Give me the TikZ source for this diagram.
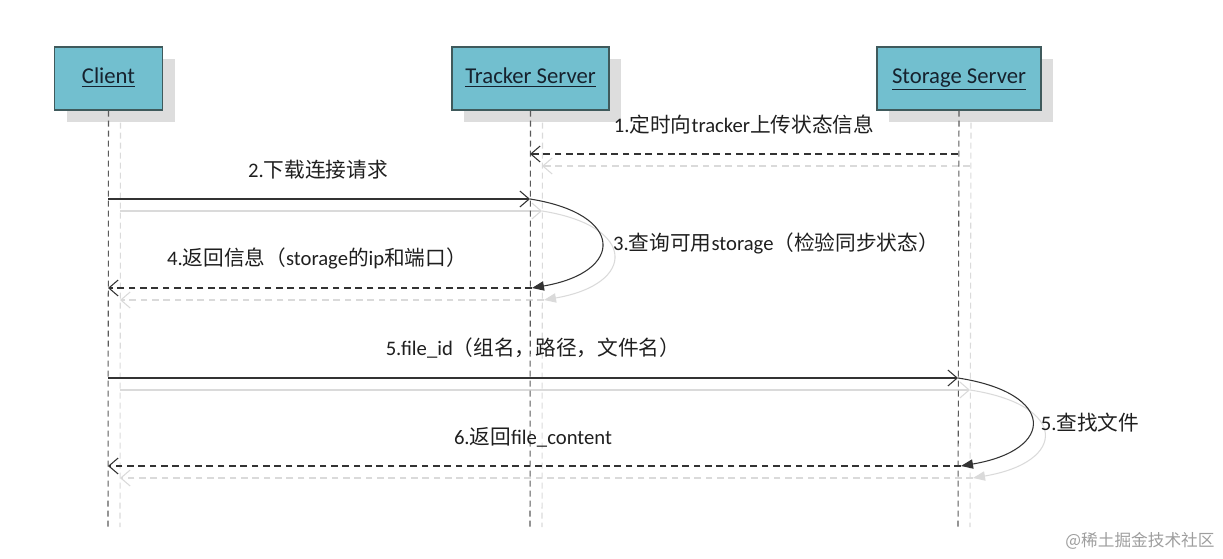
\documentclass[tikz,border=0pt]{standalone}
\usepackage{fontspec}
\setmainfont{Carlito}
\newfontfamily\cjk{Noto Sans CJK SC}
\newcommand\zh[1]{{\cjk #1}}
\usetikzlibrary{arrows.meta,shadows}
\definecolor{boxfill}{HTML}{72BFCF}
\definecolor{boxborder}{HTML}{3F5A5C}
\definecolor{headtext}{HTML}{16222E}
\definecolor{shadowgray}{HTML}{DDDDDD}
\definecolor{lineshadow}{HTML}{DADADA}
\definecolor{lifecol}{HTML}{5A5A5A}
\definecolor{msgcol}{HTML}{333333}
\begin{document}
\begin{tikzpicture}[x=0.75pt,y=-0.75pt,
  actor/.style={draw=boxborder,fill=boxfill,line width=1pt,minimum height=47.25pt,
    text=headtext,font=\fontsize{17}{20}\selectfont,inner sep=0pt,
    text height=12pt,text depth=4pt,
    drop shadow={shadow xshift=9pt,shadow yshift=-9pt,fill=shadowgray,opacity=1}},
  lifeline/.style={draw=lifecol,line width=0.8pt,dash pattern=on 4.5pt off 3pt},
  lifeshadow/.style={draw=lineshadow,line width=0.8pt,dash pattern=on 4.5pt off 3pt},
  msg/.style={draw=msgcol,line width=0.8pt,-{Straight Barb[length=7pt,width=12pt]}},
  ret/.style={msg,dash pattern=on 5pt off 3.5pt},
  selfmsg/.style={draw=msgcol,line width=0.8pt,-{Triangle[length=9pt,width=7pt]}},
  shadowmsg/.style={draw=lineshadow,line width=0.8pt,-{Straight Barb[length=7pt,width=12pt]}},
  shadowret/.style={shadowmsg,dash pattern=on 5pt off 3.5pt},
  shadowself/.style={draw=lineshadow,line width=0.8pt,-{Triangle[length=9pt,width=7pt]}},
  sh/.style={xshift=9pt,yshift=-9pt},
  lbl/.style={font=\fontsize{15.5}{18}\selectfont,text=black!88,inner sep=1pt},
]
\useasboundingbox (0,0) rectangle (1223,559);

% actors
\node[actor,minimum width=81pt] (client) at (108.5,78.5) {\underline{Client}};
\node[actor,minimum width=117.75pt] (tracker) at (530.5,78.5) {\underline{Tracker Server}};
\node[actor,minimum width=123pt] (storage) at (959,78.5) {\underline{Storage Server}};

% lifeline coordinates
\coordinate (cbot) at (108,527);
\coordinate (tbot) at (530,527);
\coordinate (sbot) at (958,527);

% message end points
\coordinate (s1) at (958,154); \coordinate (t1) at (530,154);
\coordinate (c2) at (108,199); \coordinate (t2) at (530,199);
\coordinate (t4) at (532,288); \coordinate (c4) at (108,288);
\coordinate (c5) at (108,378); \coordinate (s5) at (958,378);
\coordinate (s6) at (961,466); \coordinate (c6) at (108,466);

% shadows
\draw[lifeshadow] ([sh]client.south) -- ([xshift=9pt]cbot);
\draw[lifeshadow] ([sh]tracker.south) -- ([xshift=9pt]tbot);
\draw[lifeshadow] ([sh]storage.south) -- ([xshift=9pt]sbot);
\draw[shadowret] ([sh]s1) -- ([sh]t1);
\draw[shadowmsg] ([sh]c2) -- ([sh]t2);
\draw[shadowself] ([sh]t2) .. controls (637,226) and (637,284) .. ([sh]t4);
\draw[shadowret] ([sh]t4) -- ([sh]c4);
\draw[shadowmsg] ([sh]c5) -- ([sh]s5);
\draw[shadowself] ([sh]s5) .. controls (1068,405) and (1068,462) .. ([sh]s6);
\draw[shadowret] ([sh]s6) -- ([sh]c6);

% lifelines
\draw[lifeline] (client.south) -- (cbot);
\draw[lifeline] (tracker.south) -- (tbot);
\draw[lifeline] (storage.south) -- (sbot);

% messages
\draw[ret] (s1) -- (t1);
\draw[msg] (c2) -- (t2);
\draw[selfmsg] (t2) .. controls (625,214) and (625,272) .. (t4);
\draw[ret] (t4) -- (c4);
\draw[msg] (c5) -- (s5);
\draw[selfmsg] (s5) .. controls (1056,393) and (1056,450) .. (s6);
\draw[ret] (s6) -- (c6);

% labels
\node[lbl] (l1) at (744,125) {1.\zh{定时向}tracker\zh{上传状态信息}};
\node[lbl] (l2) at (318,170) {2.\zh{下载连接请求}};
\node[lbl] (l3) at (776,243) {3.\zh{查询可用}storage\zh{（检验同步状态）}};
\node[lbl] (l4) at (317,258) {4.\zh{返回信息（}storage\zh{的}ip\zh{和端口）}};
\node[lbl] (l5) at (533,348) {5.file\_id\zh{（组名，路径，文件名）}};
\node[lbl] (l5b) at (1090,423) {5.\zh{查找文件}};
\node[lbl] (l6) at (533,437) {6.\zh{返回}file\_content};

\node[font=\cjk\fontsize{12.5}{14}\selectfont,text=black!38,inner sep=0pt] (wm) at (1140,541) {@稀土掘金技术社区};
\end{tikzpicture}
\end{document}
